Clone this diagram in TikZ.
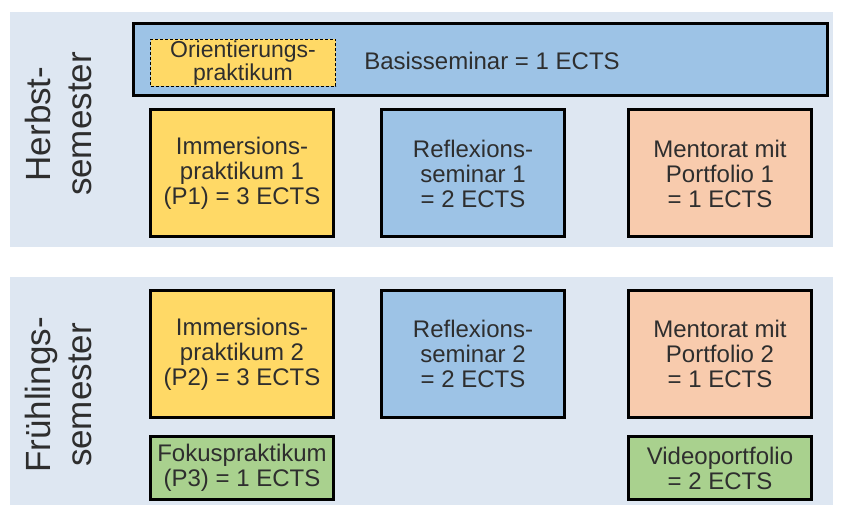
\documentclass[tikz,border=0pt]{standalone}
\usepackage{fontspec}
\setmainfont{Liberation Sans}
\usepackage{tikz}
\usetikzlibrary{positioning}

\definecolor{panelbg}{HTML}{DEE7F2}
\definecolor{kursgelb}{HTML}{FFD966}
\definecolor{kursblau}{HTML}{9DC3E6}
\definecolor{kursorange}{HTML}{F8CBAD}
\definecolor{kursgruen}{HTML}{A9D18E}
\definecolor{schrift}{HTML}{2E2E2E}

\tikzset{
  modul/.style={draw, rectangle, line width=3pt, minimum width=183pt, minimum height=127pt,
    inner sep=0pt, align=center, text=schrift, font=\fontsize{24}{25}\selectfont},
  klein/.style={modul, minimum height=63pt},
  semlabel/.style={rotate=90, align=center, text=schrift, font=\fontsize{35}{41}\selectfont}
}

\begin{document}
\begin{tikzpicture}[x=1pt, y=-1pt, node distance=231pt]
\useasboundingbox (0,0) rectangle (841,505);
\fill[white] (0,0) rectangle (841,505);
\fill[panelbg] (10,12) rectangle (833,247);
\fill[panelbg] (10,277) rectangle (833,505);

\node[semlabel] (herbst) at (58,124) {Herbst-\\semester};
\node[semlabel] (fruehling) at (58,395) {Frühlings-\\semester};

\node[modul, fill=kursblau, minimum width=694pt, minimum height=72pt] (basis) at (480.5,59.5) {};
\node[text=schrift, font=\fontsize{24}{25}\selectfont] (basistext) at (492,61) {Basisseminar = 1 ECTS};
\node[draw, dash pattern=on 3pt off 2pt, line width=1.4pt, fill=kursgelb, minimum width=185pt, minimum height=47pt,
  inner sep=0pt, align=center, text=schrift, font=\fontsize{23}{19}\selectfont] (orient) at (243,63) {Orientierungs-\\praktikum};

\node[modul, fill=kursgelb] (imm1) at (242,173.5) {Immersions-\\praktikum 1\\(P1) = 3 ECTS};
\node[modul, fill=kursblau] (ref1) [right of=imm1] {Reflexions-\\seminar 1\\= 2 ECTS};
\node[modul, fill=kursorange] (men1) [right of=ref1, node distance=247pt] {Mentorat mit\\Portfolio 1\\= 1 ECTS};

\node[modul, fill=kursgelb] (imm2) [below of=imm1, node distance=180.5pt] {Immersions-\\praktikum 2\\(P2) = 3 ECTS};
\node[modul, fill=kursblau] (ref2) [right of=imm2] {Reflexions-\\seminar 2\\= 2 ECTS};
\node[modul, fill=kursorange] (men2) [right of=ref2, node distance=247pt] {Mentorat mit\\Portfolio 2\\= 1 ECTS};

\node[klein, fill=kursgruen] (fokus) [below of=imm2, node distance=114pt] {Fokuspraktikum\\(P3) = 1 ECTS};
\node[klein, fill=kursgruen] (video) [below of=men2, node distance=114pt] {Videoportfolio\\= 2 ECTS};
\end{tikzpicture}
\end{document}
